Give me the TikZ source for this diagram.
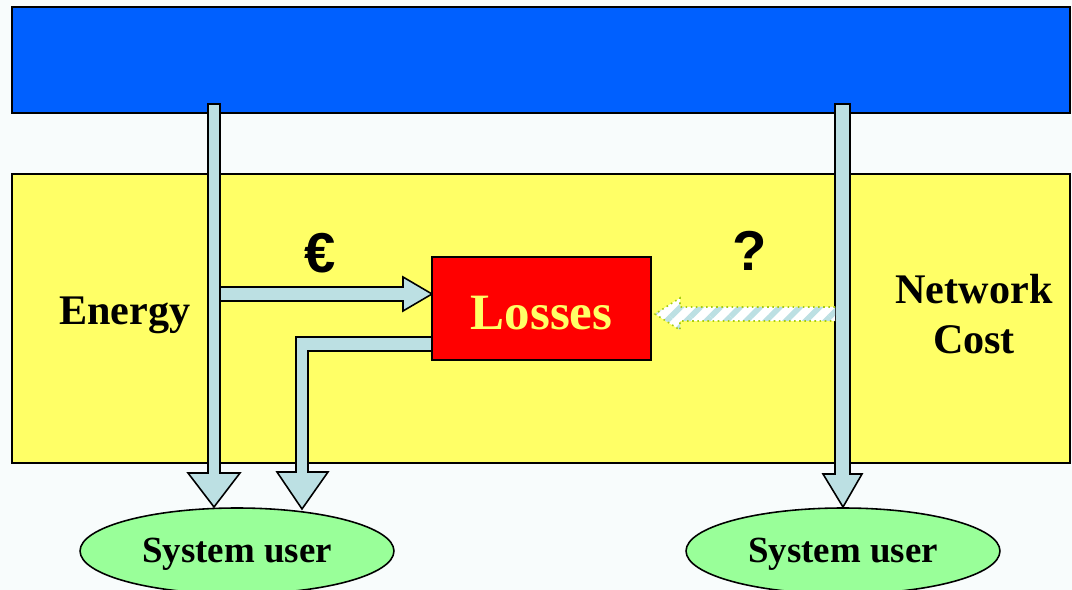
\documentclass[tikz,border=0pt]{standalone}
\usepackage{fontspec}
\setmainfont{Liberation Serif}
\newfontfamily\arialfont{Liberation Sans}
\usetikzlibrary{shapes.geometric,patterns.meta}

\definecolor{pagebg}{HTML}{F8FCFC}
\definecolor{barblue}{HTML}{0060FF}
\definecolor{bandyellow}{HTML}{FFFF66}
\definecolor{shaftblue}{HTML}{BCE0E3}
\definecolor{lossred}{HTML}{FF0000}
\definecolor{usergreen}{HTML}{99FF99}
\definecolor{dotgreen}{HTML}{A8CC10}

\tikzset{
  blockarrow/.style={draw=black, line width=0.9pt, fill=shaftblue, line join=miter},
  userbox/.style={ellipse, draw=black, line width=0.9pt, fill=usergreen,
    minimum width=6.28cm, minimum height=1.72cm, inner sep=0pt},
  usertext/.style={font=\fontsize{21}{24}\selectfont\bfseries},
  bigword/.style={font=\fontsize{24}{28}\selectfont\bfseries, align=center},
  signword/.style={font=\arialfont\fontsize{32}{36}\selectfont\bfseries}
}

\begin{document}
\begin{tikzpicture}[x=0.02cm, y=-0.02cm]
    % Page
    \fill[pagebg] (0,0) rectangle (1072,590);
    \useasboundingbox (0,0) rectangle (1072,590);

    % Top bar and middle band
    \draw[line width=0.9pt, fill=barblue] (12,7) rectangle (1070,113);
    \draw[line width=0.9pt, fill=bandyellow] (12,174) rectangle (1070,463);

    % Arrow from the bar to Losses (euro)
    \draw[blockarrow] (220,287) -- (403,287) -- (403,277) -- (432,294)
        -- (403,311) -- (403,301) -- (220,301);
    % Left down arrow
    \draw[blockarrow] (208,104) -- (208,473) -- (188,473) -- (214,507)
        -- (240,473) -- (220,473) -- (220,104) -- cycle;
    % Losses down to the user
    \draw[blockarrow] (434,337) -- (296,337) -- (296,472) -- (277,472)
        -- (302,509) -- (328,472) -- (308,472) -- (308,351) -- (434,351);
    % Right down arrow
    \draw[blockarrow] (835,104) -- (835,474) -- (823,474) -- (843,507)
        -- (862,474) -- (850,474) -- (850,104) -- cycle;

    % Open question: network cost to Losses
    \fill[white] (835,307) -- (680,307) -- (680,298) -- (655,314)
        -- (680,330) -- (680,321) -- (835,321) -- cycle;
    \fill[pattern={Lines[angle=45, distance=8pt, line width=3.2pt]},
        pattern color=shaftblue] (835,307) -- (680,307) -- (680,298)
        -- (655,314) -- (680,330) -- (680,321) -- (835,321) -- cycle;
    \draw[dotgreen, line width=0.9pt, dotted] (835,307) -- (680,307)
        -- (680,298) -- (655,314) -- (680,330) -- (680,321) -- (835,321);

    % Losses box
    \node[draw=black, line width=0.9pt, fill=lossred, minimum width=4.38cm,
        minimum height=2.06cm, inner sep=0pt] (losses) at (541.5,308.5) {};
    \node[text=bandyellow, font=\fontsize{29}{32}\selectfont\bfseries]
        (lossword) at (541.5,313) {Losses};

    % Labels
    \node[bigword] (energy) at (125,315) {Energy};
    \node[bigword] (netcost) at (974,314) {Network\\Cost};
    \node[signword] (euro) at (320,253) {€};
    \node[signword] (query) at (750,251) {?};

    % System users
    \node[userbox] (userL) at (237,551) {};
    \node[userbox] (userR) at (843,551) {};
    \node[usertext] (userLword) at (237,554) {System user};
    \node[usertext] (userRword) at (843,554) {System user};
\end{tikzpicture}
\end{document}
